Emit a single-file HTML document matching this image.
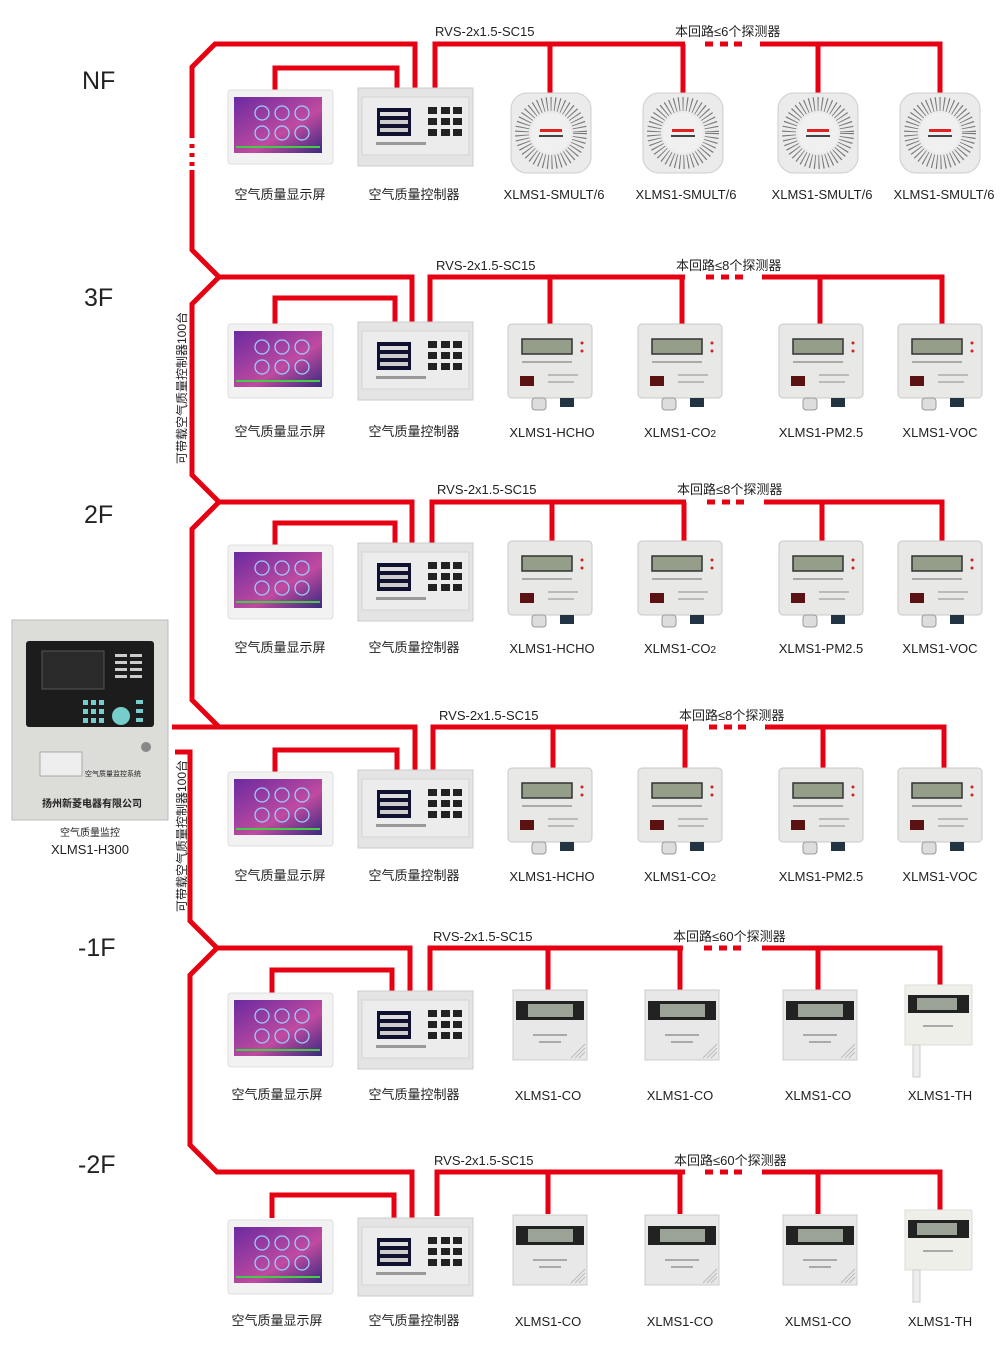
<!DOCTYPE html>
<html><head><meta charset="utf-8"><style>
html,body{margin:0;padding:0;background:#fff}
svg{display:block}
text{font-family:"Liberation Sans","Noto Sans CJK SC",sans-serif;fill:#222}
</style></head><body>
<svg width="1000" height="1347" viewBox="0 0 1000 1347" xmlns="http://www.w3.org/2000/svg">
<defs>
<linearGradient id="scr" x1="0" y1="0" x2="1" y2="1"><stop offset="0" stop-color="#6a2aa0"/><stop offset="0.6" stop-color="#c04aa0"/><stop offset="1" stop-color="#3a2a80"/></linearGradient>
<g id="disp">
<rect x="228" y="90" width="105" height="74" rx="3" fill="#f2f2f2" stroke="#ddd"/>
<rect x="234" y="97" width="88" height="56" fill="url(#scr)"/>
<circle cx="262" cy="113" r="7" fill="none" stroke="#9cf" stroke-width="1.3"/>
<circle cx="282" cy="113" r="7" fill="none" stroke="#9cf" stroke-width="1.3"/>
<circle cx="302" cy="113" r="7" fill="none" stroke="#9cf" stroke-width="1.3"/>
<circle cx="262" cy="133" r="7" fill="none" stroke="#9cf" stroke-width="1.3"/>
<circle cx="282" cy="133" r="7" fill="none" stroke="#9cf" stroke-width="1.3"/>
<circle cx="302" cy="133" r="7" fill="none" stroke="#9cf" stroke-width="1.3"/>
<rect x="236" y="146" width="84" height="2" fill="#4c4"/>
</g>
<g id="ctrl">
<rect x="358" y="88" width="115" height="78" fill="#e4e4e4" stroke="#ccc"/>
<rect x="362" y="97" width="107" height="58" fill="#ececec" stroke="#d4d4d4"/>
<rect x="377" y="108" width="34" height="28" fill="#101030"/>
<rect x="380" y="112" width="28" height="4" fill="#ddd"/>
<rect x="380" y="120" width="28" height="4" fill="#ccc"/>
<rect x="380" y="128" width="28" height="4" fill="#ccc"/>
<g fill="#222"><rect x="428" y="107" width="9" height="7"/><rect x="441" y="107" width="9" height="7"/><rect x="453" y="107" width="9" height="7"/>
<rect x="428" y="118" width="9" height="7"/><rect x="441" y="118" width="9" height="7"/><rect x="453" y="118" width="9" height="7"/>
<rect x="428" y="129" width="9" height="7"/><rect x="441" y="129" width="9" height="7"/><rect x="453" y="129" width="9" height="7"/></g>
<rect x="376" y="142" width="50" height="3" fill="#999"/>
</g>
<g id="smoke">
<rect x="0" y="0" width="80" height="80" rx="16" fill="#ebebeb" stroke="#ccc"/>
<circle cx="40" cy="40" r="29" fill="none" stroke="#777" stroke-width="14" stroke-dasharray="1 3"/>
<circle cx="40" cy="40" r="20" fill="#f0f0f0"/>
<rect x="29" y="36" width="22" height="3" fill="#d22"/>
<rect x="28" y="42" width="24" height="2" fill="#444"/>
</g>
<g id="gas">
<rect x="0" y="0" width="84" height="74" rx="4" fill="#e8e8e6" stroke="#c8c8c8"/>
<rect x="14" y="15" width="50" height="15" fill="#949e88" stroke="#333" stroke-width="1.5"/>
<circle cx="74" cy="19" r="1.5" fill="#c22"/><circle cx="74" cy="27" r="1.5" fill="#c22"/>
<rect x="14" y="37" width="50" height="2" fill="#aaa"/>
<rect x="12" y="52" width="14" height="10" fill="#5a1212"/>
<rect x="40" y="50" width="30" height="2" fill="#bbb"/><rect x="40" y="57" width="26" height="2" fill="#bbb"/>
<rect x="24" y="74" width="14" height="12" rx="3" fill="#ddd" stroke="#999"/>
<rect x="52" y="74" width="14" height="9" fill="#234"/>
</g>
<g id="co">
<rect x="0" y="0" width="74" height="70" fill="#e8e8e8" stroke="#ccc"/>
<rect x="3" y="11" width="68" height="19" fill="#222"/>
<rect x="15" y="14" width="45" height="13" fill="#9aa396"/>
<rect x="20" y="44" width="34" height="2" fill="#aaa"/><rect x="26" y="51" width="22" height="2" fill="#aaa"/>
<path d="M58 68 L72 54 M62 68 L72 58 M66 68 L72 62" stroke="#bbb" stroke-width="1"/>
</g>
<g id="th">
<rect x="0" y="0" width="67" height="60" fill="#efefea" stroke="#ddd"/>
<rect x="3" y="10" width="61" height="18" fill="#222"/>
<rect x="12" y="13" width="40" height="12" fill="#9aa396"/>
<rect x="18" y="40" width="30" height="2" fill="#aaa"/>
<rect x="8" y="60" width="7" height="32" fill="#eee" stroke="#ccc"/>
</g>
</defs>

<g fill="none" stroke="#e60012" stroke-width="5">
<path d="M415,88 V44 H215 L192,67 V138"/>
<path d="M192,144 V148 M192,153 V157 M192,162 V166"/>
<path d="M192,170 V250 L219,277 H412 V322"/>
<path d="M219,277 L192,304 V475 L219,502 H412 V547"/>
<path d="M219,502 L192,529 V700 L219,727 M172,727 H415 V772"/>
<path d="M175,752 H190 V921 L217,948 H410 V992"/>
<path d="M217,948 L190,975 V1145 L217,1172 H412 V1218"/>
</g>
<g fill="none" stroke="#e60012" stroke-width="5">
<path d="M275,92 V68 H397 V88"/>
<path d="M435,88 V44 H685 M760,44 H940 V93 M550,44 V93 M683,44 V93 M818,44 V93"/>
<path d="M705,44 H713 M720,44 H728 M734,44 H742"/>
<path d="M275,324 V298 H395 V322"/>
<path d="M430,322 V277 H685 M762,277 H942 V324 M550,277 V324 M682,277 V324 M820,277 V324"/>
<path d="M706,277 H714 M721,277 H729 M735,277 H743"/>
<path d="M275,549 V523 H395 V547"/>
<path d="M432,547 V502 H686 M764,502 H942 V548 M552,502 V548 M684,502 V548 M822,502 V548"/>
<path d="M707,502 H715 M722,502 H730 M736,502 H744"/>
<path d="M275,774 V750 H397 V772"/>
<path d="M433,772 V727 H688 M765,727 H944 V772 M553,727 V772 M685,727 V772 M823,727 V772"/>
<path d="M709,727 H717 M724,727 H732 M738,727 H746"/>
<path d="M272,994 V970 H392 V992"/>
<path d="M430,992 V948 H683 M762,948 H940 V987 M548,948 V990 M680,948 V990 M818,948 V990"/>
<path d="M704,948 H712 M719,948 H727 M733,948 H741"/>
<path d="M272,1218 V1195 H394 V1218"/>
<path d="M437,1216 V1172 H685 M762,1172 H940 V1211 M548,1172 V1214 M680,1172 V1214 M818,1172 V1214"/>
<path d="M705,1172 H713 M720,1172 H728 M734,1172 H742"/>
</g>

<g font-size="25">
<text x="82" y="89">NF</text>
<text x="84" y="306">3F</text>
<text x="84" y="523">2F</text>
<text x="78" y="956">-1F</text>
<text x="78" y="1173">-2F</text>
</g>
<text transform="translate(186,388) rotate(-90)" font-size="12" text-anchor="middle">可带载空气质量控制器100台</text>
<text transform="translate(186,836) rotate(-90)" font-size="12" text-anchor="middle">可带载空气质量控制器100台</text>

<rect x="12" y="620" width="156" height="200" fill="#dcdcd8" stroke="#bbb"/>
<rect x="26" y="641" width="128" height="86" rx="3" fill="#1c1c1c"/>
<rect x="42" y="651" width="62" height="38" fill="#2a2a2a" stroke="#555"/>
<g fill="#ccc"><rect x="115" y="654" width="12" height="3"/><rect x="130" y="654" width="12" height="3"/><rect x="115" y="661" width="12" height="3"/><rect x="130" y="661" width="12" height="3"/><rect x="115" y="668" width="12" height="3"/><rect x="130" y="668" width="12" height="3"/><rect x="115" y="675" width="12" height="3"/><rect x="130" y="675" width="12" height="3"/></g>
<g fill="#7cc"><rect x="83" y="700" width="5" height="5"/><rect x="91" y="700" width="5" height="5"/><rect x="99" y="700" width="5" height="5"/><rect x="83" y="709" width="5" height="5"/><rect x="91" y="709" width="5" height="5"/><rect x="99" y="709" width="5" height="5"/><rect x="83" y="718" width="5" height="5"/><rect x="91" y="718" width="5" height="5"/><rect x="99" y="718" width="5" height="5"/>
<circle cx="121" cy="716" r="9"/><rect x="136" y="700" width="7" height="4"/><rect x="136" y="709" width="7" height="4"/><rect x="136" y="718" width="7" height="4"/></g>
<circle cx="146" cy="747" r="5" fill="#888"/>
<rect x="40" y="752" width="42" height="24" fill="#eee" stroke="#aaa"/>
<text x="113" y="776" font-size="7" text-anchor="middle">空气质量监控系统</text>
<text x="92" y="807" font-size="10" text-anchor="middle" font-weight="bold">扬州新菱电器有限公司</text>
<text x="90" y="836" font-size="10" text-anchor="middle">空气质量监控</text>
<text x="90" y="854" font-size="13" text-anchor="middle">XLMS1-H300</text>

<use href="#disp"/><use href="#ctrl"/>
<use href="#disp" y="234"/><use href="#ctrl" y="234"/>
<use href="#disp" y="455"/><use href="#ctrl" y="455"/>
<use href="#disp" y="682"/><use href="#ctrl" y="682"/>
<use href="#disp" y="903"/><use href="#ctrl" y="903"/>
<use href="#disp" y="1130"/><use href="#ctrl" y="1130"/>

<use href="#smoke" x="511" y="93"/><use href="#smoke" x="643" y="93"/><use href="#smoke" x="778" y="93"/><use href="#smoke" x="900" y="93"/>

<use href="#gas" x="508" y="324"/><use href="#gas" x="638" y="324"/><use href="#gas" x="779" y="324"/><use href="#gas" x="898" y="324"/>
<use href="#gas" x="508" y="541"/><use href="#gas" x="638" y="541"/><use href="#gas" x="779" y="541"/><use href="#gas" x="898" y="541"/>
<use href="#gas" x="508" y="768"/><use href="#gas" x="638" y="768"/><use href="#gas" x="779" y="768"/><use href="#gas" x="898" y="768"/>

<use href="#co" x="513" y="990"/><use href="#co" x="645" y="990"/><use href="#co" x="783" y="990"/><use href="#th" x="905" y="985"/>
<use href="#co" x="513" y="1215"/><use href="#co" x="645" y="1215"/><use href="#co" x="783" y="1215"/><use href="#th" x="905" y="1210"/>

<g font-size="13">
<text x="435" y="36">RVS-2x1.5-SC15</text><text x="675" y="36">本回路≤6个探测器</text>
<text x="436" y="270">RVS-2x1.5-SC15</text><text x="676" y="270">本回路≤8个探测器</text>
<text x="437" y="494">RVS-2x1.5-SC15</text><text x="677" y="494">本回路≤8个探测器</text>
<text x="439" y="720">RVS-2x1.5-SC15</text><text x="679" y="720">本回路≤8个探测器</text>
<text x="433" y="941">RVS-2x1.5-SC15</text><text x="673" y="941">本回路≤60个探测器</text>
<text x="434" y="1165">RVS-2x1.5-SC15</text><text x="674" y="1165">本回路≤60个探测器</text>
</g>

<g font-size="13" text-anchor="middle">
<text x="280" y="199">空气质量显示屏</text><text x="414" y="199">空气质量控制器</text>
<text x="554" y="199">XLMS1-SMULT/6</text><text x="686" y="199">XLMS1-SMULT/6</text><text x="822" y="199">XLMS1-SMULT/6</text><text x="944" y="199">XLMS1-SMULT/6</text>

<text x="280" y="436">空气质量显示屏</text><text x="414" y="436">空气质量控制器</text>
<text x="552" y="437">XLMS1-HCHO</text><text x="680" y="437">XLMS1-CO<tspan font-size="10">2</tspan></text><text x="821" y="437">XLMS1-PM2.5</text><text x="940" y="437">XLMS1-VOC</text>

<text x="280" y="652">空气质量显示屏</text><text x="414" y="652">空气质量控制器</text>
<text x="552" y="653">XLMS1-HCHO</text><text x="680" y="653">XLMS1-CO<tspan font-size="10">2</tspan></text><text x="821" y="653">XLMS1-PM2.5</text><text x="940" y="653">XLMS1-VOC</text>

<text x="280" y="880">空气质量显示屏</text><text x="414" y="880">空气质量控制器</text>
<text x="552" y="881">XLMS1-HCHO</text><text x="680" y="881">XLMS1-CO<tspan font-size="10">2</tspan></text><text x="821" y="881">XLMS1-PM2.5</text><text x="940" y="881">XLMS1-VOC</text>

<text x="277" y="1099">空气质量显示屏</text><text x="414" y="1099">空气质量控制器</text>
<text x="548" y="1100">XLMS1-CO</text><text x="680" y="1100">XLMS1-CO</text><text x="818" y="1100">XLMS1-CO</text><text x="940" y="1100">XLMS1-TH</text>

<text x="277" y="1325">空气质量显示屏</text><text x="414" y="1325">空气质量控制器</text>
<text x="548" y="1326">XLMS1-CO</text><text x="680" y="1326">XLMS1-CO</text><text x="818" y="1326">XLMS1-CO</text><text x="940" y="1326">XLMS1-TH</text>
</g>
</svg>
</body></html>
